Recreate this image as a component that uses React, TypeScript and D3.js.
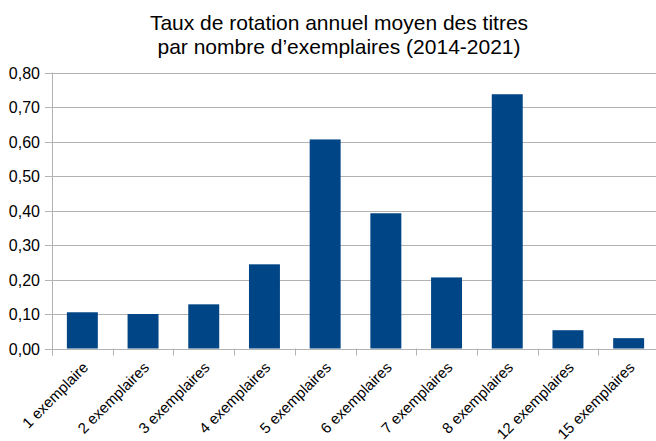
import React from "react";
import * as d3 from "d3";

// Chart data
const categories = [
  "1 exemplaire",
  "2 exemplaires",
  "3 exemplaires",
  "4 exemplaires",
  "5 exemplaires",
  "6 exemplaires",
  "7 exemplaires",
  "8 exemplaires",
  "12 exemplaires",
  "15 exemplaires",
];
const rates = [0.105, 0.1, 0.128, 0.244, 0.606, 0.392, 0.206, 0.737, 0.053, 0.03];
const yTicks = [0, 0.1, 0.2, 0.3, 0.4, 0.5, 0.6, 0.7, 0.8];
const titleLines = [
  "Taux de rotation annuel moyen des titres",
  "par nombre d\u2019exemplaires (2014-2021)",
];

const W = 656;
const H = 441;
const margin = { top: 72.5, right: -3, bottom: 92.5, left: 52 };
const font = "'Liberation Sans', Arial, sans-serif";

export default function App() {
  const innerH = H - margin.top - margin.bottom;

  const x = d3
    .scaleBand<string>()
    .domain(categories)
    .range([margin.left, W - margin.right])
    .paddingInner(0.49)
    .paddingOuter(0.245);

  const y = d3.scaleLinear().domain([0, 0.8]).range([margin.top + innerH, margin.top]);

  const fmt = (v: number) => v.toFixed(2).replace(".", ",");
  const step = x.step();
  const x0 = margin.left;
  const tickXs = d3.range(categories.length + 1).map(i => x0 + i * step);

  return (
    <svg width={W} height={H} style={{ position: "absolute", left: 0, top: 0, background: "#fff" }}>
      {/* title */}
      {titleLines.map((t, i) => (
        <text
          key={t}
          x={339}
          y={30 + i * 24}
          textAnchor="middle"
          fontFamily={font}
          fontSize={21}
          fill="#000"
        >
          {t}
        </text>
      ))}

      {/* grid */}
      {yTicks.map(t => (
        <line
          key={t}
          x1={margin.left - 7}
          x2={W}
          y1={Math.round(y(t)) + 0.5}
          y2={Math.round(y(t)) + 0.5}
          stroke="#b3b3b3"
          strokeWidth={1}
        />
      ))}

      {/* y axis */}
      <line
        x1={margin.left + 0.5}
        x2={margin.left + 0.5}
        y1={margin.top}
        y2={margin.top + innerH + 7}
        stroke="#b3b3b3"
      />
      {yTicks.map(t => (
        <text
          key={"l" + t}
          x={40}
          y={y(t) + 6}
          textAnchor="end"
          fontFamily={font}
          fontSize={16}
          fill="#000"
        >
          {fmt(t)}
        </text>
      ))}

      {/* x ticks */}
      {tickXs.map((tx, i) => (
        <line
          key={"t" + i}
          x1={Math.round(tx) + 0.5}
          x2={Math.round(tx) + 0.5}
          y1={margin.top + innerH}
          y2={margin.top + innerH + 7}
          stroke="#b3b3b3"
        />
      ))}

      {/* bars */}
      {categories.map((c, i) => (
        <rect
          key={c}
          x={x(c)}
          y={y(rates[i])}
          width={x.bandwidth()}
          height={y(0) - y(rates[i])}
          fill="#004586"
        />
      ))}

      {/* x labels */}
      {categories.map(c => {
        const cx = (x(c) ?? 0) + x.bandwidth() / 2 - 1;
        const cy = margin.top + innerH + 12;
        return (
          <text
            key={"x" + c}
            transform={`translate(${cx},${cy}) rotate(-45)`}
            textAnchor="end"
            dominantBaseline="hanging"
            fontFamily={font}
            fontSize={15}
            fill="#000"
          >
            {c}
          </text>
        );
      })}
    </svg>
  );
}
